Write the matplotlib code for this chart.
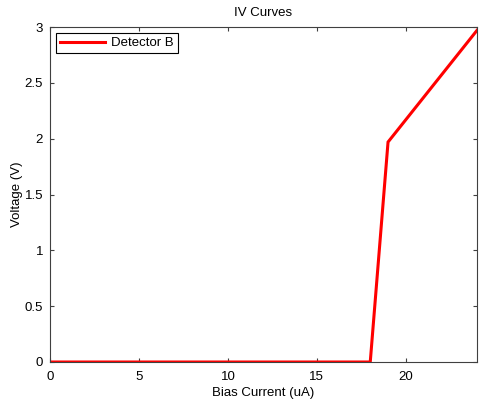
import matplotlib
matplotlib.use("Agg")
import matplotlib.pyplot as plt

bias_current = [0, 18, 19, 24]
voltage = [0, 0, 1.97, 2.97]
x_ticks = [0, 5, 10, 15, 20]
y_ticks = [0, 0.5, 1, 1.5, 2, 2.5, 3]
y_tick_labels = ["0", "0.5", "1", "1.5", "2", "2.5", "3"]

plt.rcParams["font.family"] = ["Liberation Sans", "DejaVu Sans"]
fs = 9.5

fig = plt.figure(figsize=(4.79, 4.04), dpi=100)
ax = fig.add_axes([50 / 479, 1 - 362 / 404, 427 / 479, 335 / 404])

ax.plot(bias_current, voltage, color="#ff0000", linewidth=2.2, label="Detector B",
        solid_joinstyle="miter")

ax.set_xlim(0, 24)
ax.set_ylim(0, 3)
ax.set_xticks(x_ticks)
ax.set_yticks(y_ticks)
ax.set_yticklabels(y_tick_labels)
ax.tick_params(direction="in", top=True, right=True, length=3, width=0.8,
               color="#404040", labelsize=fs)
ax.tick_params(axis="x", pad=6.3)
ax.tick_params(axis="y", pad=5)
for spine in ax.spines.values():
    spine.set_color("#404040")
    spine.set_linewidth(0.8)

ax.set_title("IV Curves", fontsize=fs, pad=8)
ax.set_xlabel("Bias Current (uA)", fontsize=fs, labelpad=3)
ax.set_ylabel("Voltage (V)", fontsize=fs, labelpad=1)

leg = ax.legend(loc="upper left", fancybox=False, framealpha=1, edgecolor="black",
                borderaxespad=0.45, handlelength=3.4, borderpad=0.3,
                handletextpad=0.5, fontsize=fs)
leg.get_frame().set_linewidth(0.8)

fig.savefig("out.png", dpi=100, facecolor="white")
